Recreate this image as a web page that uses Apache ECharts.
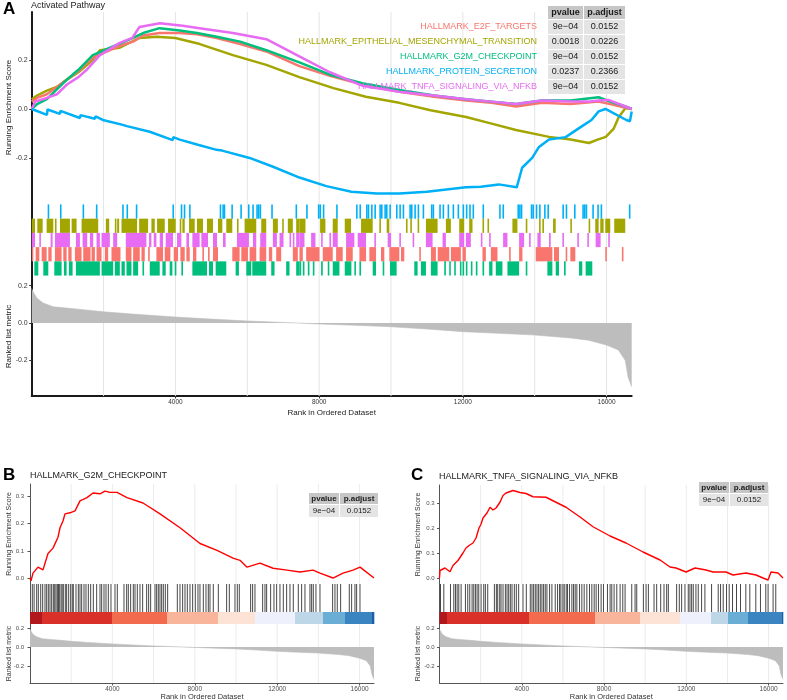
<!DOCTYPE html>
<html><head><meta charset="utf-8">
<script src="https://cdn.jsdelivr.net/npm/echarts@6/dist/echarts.min.js"></script>
<style>html,body{margin:0;padding:0;background:#fff}#c{width:787px;height:700px}</style>
</head><body><div id="c"></div>
<script>
const FONT = '"Liberation Sans", Arial, Helvetica, sans-serif';
const rankMax = 16700;
const gridRanks = [2000, 4000, 6000, 8000, 10000, 12000, 14000, 16000];
const xTickValues = [4000, 8000, 12000, 16000];

// ---------- Panel A: gene sets ----------
const setNamesA = ['HALLMARK_E2F_TARGETS', 'HALLMARK_EPITHELIAL_MESENCHYMAL_TRANSITION', 'HALLMARK_G2M_CHECKPOINT', 'HALLMARK_PROTEIN_SECRETION', 'HALLMARK_TNFA_SIGNALING_VIA_NFKB'];
const setColorsA = ['#F8766D', '#A3A500', '#00BF7D', '#00B0F6', '#E76BF3'];
const pvaluesA = ['9e\u221204', '0.0018', '9e\u221204', '0.0237', '9e\u221204'];
const padjA = ['0.0152', '0.0226', '0.0152', '0.2366', '0.0152'];
const tableHeaders = ['pvalue', 'p.adjust'];

// running enrichment scores (rank, ES)
const esRankE2F = [0,150,420,700,980,1300,1700,2180,2500,2820,3100,3560,4120,4600,5150,5800,6530,7450,8300,9200,10230,11200,12090,12800,13480,14200,15000,15780,16100,16530,16700];
const esE2F     = [0.03,0.045,0.06,0.09,0.12,0.155,0.21,0.24,0.26,0.275,0.3,0.31,0.31,0.305,0.29,0.265,0.235,0.175,0.135,0.1,0.07,0.05,0.035,0.025,0.01,0.025,0.02,0.03,0.02,0.005,0.0];
const esRankG2M = [0,150,420,700,980,1300,1700,2180,2500,2820,3100,3560,4120,4600,5150,5800,6530,7450,8300,9200,10230,11200,12090,12800,13480,14200,15000,15780,16100,16530,16700];
const esG2M     = [0.0,0.02,0.04,0.08,0.12,0.16,0.22,0.25,0.27,0.29,0.31,0.33,0.32,0.31,0.295,0.275,0.24,0.19,0.14,0.105,0.078,0.055,0.04,0.03,0.02,0.035,0.035,0.048,0.03,0.01,0.0];
const esRankTNF = [0,100,420,700,980,1300,1530,1900,2450,2800,3000,3570,4200,4670,5600,6530,7450,8300,9200,10230,11200,12090,12800,13480,14200,15000,15500,15780,16050,16530,16700];
const esTNF     = [0.0,0.03,0.045,0.06,0.1,0.13,0.16,0.22,0.27,0.29,0.335,0.35,0.34,0.33,0.31,0.285,0.215,0.15,0.095,0.07,0.055,0.04,0.03,0.02,0.035,0.03,0.03,0.035,0.037,0.01,0.0];
const esRankEMT = [0,150,420,700,980,1300,1700,1900,2450,3000,3480,4000,4680,5600,6530,7450,8400,9300,10230,11100,12090,12800,13480,14400,15000,15510,15750,15980,16200,16340,16530,16700];
const esEMT     = [0.04,0.055,0.075,0.09,0.12,0.15,0.2,0.24,0.25,0.29,0.295,0.29,0.265,0.22,0.18,0.13,0.085,0.05,0.025,-0.005,-0.033,-0.06,-0.086,-0.114,-0.125,-0.139,-0.125,-0.114,-0.08,-0.033,0.004,0.0];
const esRankPRO = [0,425,440,786,800,1342,1360,1758,1775,1980,2536,2650,2700,3286,3925,3940,4120,4600,5148,5300,6065,6700,7453,8200,8900,9600,10230,11000,11600,12090,12500,13000,13500,13650,13930,14120,14400,14860,15320,15580,15780,15970,16550,16650,16700];
const esPRO     = [0,-0.024,-0.002,-0.02,-0.008,-0.037,-0.025,-0.04,-0.03,-0.045,-0.065,-0.07,-0.063,-0.093,-0.127,-0.115,-0.125,-0.145,-0.167,-0.17,-0.2,-0.235,-0.28,-0.315,-0.338,-0.345,-0.345,-0.338,-0.328,-0.32,-0.318,-0.308,-0.32,-0.24,-0.2,-0.155,-0.125,-0.115,-0.07,-0.045,-0.01,0.0,-0.045,-0.05,-0.01];

// hit positions (rank intervals) for each row of panel A
const hitsPRO = [444,786,1416,1786,2518,2638,2897,3917,4148,4232,4380,5232,5306,5343,5556,5806,6019,6139,6250,6296,6343,6667,7343,7639,7964,8010,8102,8473,9028,9121,9306,9352,9445,9537,9676,9722,9815,9861,9954,10139,10232,10324,10510,10556,10649,10741,10880,11112,11158,11343,11436,11575,11714,11853,11992,12084,12177,12269,12547,13010,13103,13519,13566,13612,13890,13936,14029,14122,14261,14353,14770,14862,15094,15325,15371,15418,15603,15742,15834,16621];
const hitsEMT = [[0,92],[156,305],[416,601],[647,660],[786,1064],[1111,1249],[1388,1851],[2064,2157],[2314,2330],[2379,2434],[2499,2934],[2990,3240],[3332,3425],[3490,3703],[3795,4008],[4120,4135],[4194,4259],[4379,4537],[4601,4768],[4879,5046],[5185,5306],[5416,5583],[5713,5728],[5926,6250],[6389,6528],[6713,6852],[6972,6990],[7129,7268],[7361,7454],[7453,7620],[8027,8175],[8379,8518],[8713,8889],[9167,9491],[9676,9690],[9880,9954],[10417,10432],[10537,10550],[10741,10755],[10973,11297],[11528,11667],[11899,12038],[12177,12269],[12547,12560],[12686,12700],[13380,13519],[13751,13765],[14122,14136],[14214,14228],[14511,14585],[14992,15006],[15501,15515],[15686,15779],[15825,15918],[15964,16103],[16214,16520]];
const hitsTNF = [[0,92],[212,226],[527,582],[647,1064],[1231,1342],[1416,1546],[1620,1712],[1805,1897],[1944,2175],[2268,2379],[2619,3193],[3267,3332],[3397,3471],[3564,3656],[3730,3934],[4045,4166],[4305,4379],[4472,4675],[4722,4907],[5046,5157],[5324,5398],[5713,6046],[6157,6250],[6361,6528],[6713,6824],[6898,7009],[7176,7190],[7268,7282],[7361,7454],[7453,7592],[7777,7898],[8055,8070],[8287,8300],[8379,8518],[8750,8981],[9074,9306],[9537,9551],[9908,10000],[10232,10246],[10602,10616],[10973,11158],[11436,11528],[11899,12038],[12084,12222],[12501,12515],[12732,12746],[13121,13241],[13566,13705],[13844,13858],[14075,14168],[14399,14446],[14770,14784],[15186,15200],[15464,15478],[15696,15835],[16047,16061]];
const hitsE2F = [[0,45],[110,212],[277,416],[462,555],[647,832],[879,972],[1018,1111],[1203,1388],[1434,1638],[1666,1759],[1805,1944],[2036,2129],[2221,2471],[2619,2777],[2823,3008],[3055,3147],[3240,3286],[3471,3656],[3703,3860],[3953,4073],[4138,4259],[4305,4398],[4490,4583],[4750,4787],[4907,4953],[5046,5185],[5583,5787],[5833,6019],[6065,6250],[6343,6528],[6602,6694],[6805,6944],[7268,7407],[7453,7546],[7639,8010],[8102,8379],[8473,8657],[8750,8935],[9121,9306],[9398,9584],[9722,9815],[9954,10232],[10278,10371],[10787,10801],[11112,11251],[11300,11621],[11667,11945],[11992,12084],[12547,12640],[12779,12964],[13288,13302],[13566,13659],[14029,14492],[14538,14677],[14862,14876],[14992,15131],[15964,15978],[16427,16441]];
const hitsG2M = [[73,184],[323,462],[629,832],[897,972],[1036,1138],[1231,1897],[1944,2268],[2314,2453],[2499,2592],[2638,2777],[2823,2962],[3083,3120],[3286,3564],[3638,3730],[3841,3916],[3980,4027],[4166,4212],[4472,4879],[4935,5046],[5120,5416],[5676,5768],[5972,6111],[6139,6528],[6667,6759],[7083,7176],[7361,7454],[7453,7500],[7546,7592],[7685,7731],[7824,7870],[8055,8102],[8240,8254],[8379,8565],[8713,8898],[8981,8995],[9121,9167],[9491,9584],[9769,9783],[9973,10158],[10649,10741],[10834,10973],[11112,11297],[11482,11528],[11621,11635],[11760,11774],[11918,11932],[11992,12006],[12084,12098],[12223,12237],[12362,12376],[12547,12593],[12732,12825],[12917,13102],[13241,13566],[13751,13765],[14353,14492],[14585,14677],[14816,14862],[15233,15325],[15418,15603]];

// ranked list metric (shared by all panels)
const metricRanks  = [0,40,140,320,600,970,1500,2000,2800,4000,5000,6000,7000,7400,8000,9000,10000,11000,12000,13000,14000,15000,15500,16000,16330,16520,16600,16700];
const metricValues = [0.185,0.167,0.134,0.107,0.087,0.08,0.07,0.06,0.048,0.032,0.021,0.011,0.003,0,-0.005,-0.012,-0.02,-0.032,-0.046,-0.055,-0.064,-0.08,-0.092,-0.118,-0.144,-0.2,-0.29,-0.34];

// ---------- Panel B ----------
const titleB = 'HALLMARK_G2M_CHECKPOINT';
const pvalueB = '9e\u221204', padjB = '0.0152';
const esRankB = [0,49,146,388,631,874,1117,1359,1457,1602,1699,1942,2185,2428,2767,3059,3399,3641,3884,4224,4709,5486,6312,7283,8254,9079,9856,10196,10535,11166,11798,12477,13109,13740,14080,14711,15196,15682,16022,16700];
const esB     = [0,-0.01,0.018,0.04,0.03,0.09,0.11,0.15,0.185,0.21,0.236,0.24,0.247,0.284,0.296,0.313,0.31,0.32,0.315,0.315,0.296,0.276,0.236,0.185,0.127,0.102,0.073,0.065,0.04,0.055,0.036,0.029,0.022,0.029,0.018,0.0,0.018,0.029,0.04,0.0];
const hitsB = [113,200,324,405,520,615,728,809,890,971,1052,1133,1200,1262,1327,1380,1424,1505,1560,1618,1715,1780,1877,1974,2050,2103,2233,2346,2427,2508,2621,2718,2832,2945,3074,3236,3398,3479,3592,3689,3802,3932,4126,4239,4563,4692,4773,4886,5016,5097,5210,5339,5469,5663,5760,5857,6068,6148,6229,6310,6391,6472,6569,6682,7152,7281,7410,7524,7637,7766,7896,8025,8155,8252,8414,8543,8656,8737,8899,9142,9546,9676,9951,10064,10161,10711,10808,10922,11294,11407,11488,11682,11844,11973,12135,12297,12459,12620,12782,13025,13187,13349,13591,13672,13753,13882,14077,14692,14805,14918,15080,15500,15614,15776,15857,16019];
const barEdgesB = [0,583,3981,6651,9127,10924,12866,14225,15293,16604,16700];

// ---------- Panel C ----------
const titleC = 'HALLMARK_TNFA_SIGNALING_VIA_NFKB';
const pvalueC = '9e\u221204', padjC = '0.0152';
const esRankC = [0,24,267,510,656,899,1142,1288,1434,1629,1775,1920,2018,2115,2309,2455,2601,2747,2941,3087,3233,3573,3914,4206,4546,5178,5664,6151,6832,7464,8290,9068,9895,10722,11208,11499,11985,12423,12958,13298,13930,14270,14902,15389,15729,15972,16118,16459,16700];
const esC     = [0,0.03,0.04,0.025,0.05,0.07,0.1,0.12,0.13,0.14,0.16,0.2,0.215,0.24,0.26,0.283,0.272,0.28,0.303,0.33,0.34,0.35,0.342,0.338,0.325,0.323,0.303,0.283,0.244,0.205,0.168,0.14,0.104,0.072,0.044,0.04,0.024,0.04,0.032,0.024,0.024,0.012,0.02,0.012,0.0,-0.008,0.024,0.02,0.0];
const hitsC = [49,210,534,695,776,857,938,1051,1261,1374,1471,1585,1666,1746,1827,1908,2021,2151,2231,2345,2668,2765,2830,2927,2991,3088,3202,3283,3363,3444,3525,3638,3735,3848,4059,4220,4414,4495,4576,4657,4738,4819,4900,4980,5061,5142,5223,5352,5465,5627,5740,5837,5902,5999,6064,6161,6225,6322,6436,6517,6597,6678,6808,6921,7034,7163,7293,7406,7519,7616,7729,7858,7972,8166,8295,8376,8489,8619,8780,8910,9023,9346,9508,9589,9912,10042,10155,10430,10559,10753,10915,11044,11125,11529,11659,11772,11934,12095,12176,12257,12338,12467,12580,12742,12904,13227,13550,13664,13793,13955,14084,14246,14440,14634,14893,15087,15378,15604,15863,15976,16219,16349];
const barEdgesC = [0,365,4351,7560,9748,11693,13200,14026,14999,16652,16700];
const barColors = ['#b0181e','#d9302a','#f36b4e','#f9b59b','#fde3d6','#eef1fb','#bdd7e8','#6aaed6','#3b84c2','#1a5ea6'];

// ---------- build ----------
const pairs = (xs, ys) => xs.map((x, i) => [x, ys[i]]);
const gridBase = {containLabel:false, outerBoundsMode:'none'};
const grids = [
  {left:31.7, top:12,  width:600, height:191},
  {left:31.7, top:203, width:600, height:74},
  {left:31.7, top:277, width:600, height:119},
  {left:30, top:484, width:344, height:100},
  {left:30, top:584, width:344, height:28},
  {left:30, top:612, width:344, height:12},
  {left:30, top:624, width:344, height:59},
  {left:439.5, top:485, width:343.5, height:99},
  {left:439.5, top:584, width:343.5, height:28},
  {left:439.5, top:612, width:343.5, height:12},
  {left:439.5, top:624, width:343.5, height:59}
].map(g => Object.assign({}, gridBase, g));
const axA = {lineStyle:{color:'#1a1a1a', width:2}};
const axB = {lineStyle:{color:'#555', width:1}};

function xAx(g, bottom, isA) {
  const o = {type:'value', gridIndex:g, min:0, max:rankMax, axisLine:{show:false}, axisTick:{show:false}, axisLabel:{show:false}, splitLine:{show:false}};
  if (bottom) {
    o.axisLine = Object.assign({show:true, onZero:false}, isA ? axA : axB);
    o.axisTick = {show:true, length:2.5, customValues:xTickValues, lineStyle:{color:isA ? '#333' : '#555'}};
    o.axisLabel = {show:true, customValues:xTickValues, formatter:v => String(v), fontSize:6.5, color:isA ? '#333' : '#4d4d4d', fontFamily:FONT, margin:3};
    o.name = 'Rank in Ordered Dataset';
    o.nameLocation = 'middle';
    o.nameMoveOverlap = false;
    o.nameGap = isA ? 13 : 9.5;
    o.nameTextStyle = {fontSize:isA ? 8 : 7.5, color:isA ? '#1a1a1a' : '#333', fontFamily:FONT};
  }
  return o;
}
function yAx(g, min, max, ticks, isA, name, gap, margin) {
  const o = {type:'value', gridIndex:g, min:min, max:max, splitLine:{show:false},
    axisLine:Object.assign({show:true, onZero:false}, isA ? axA : axB),
    axisTick:{show:!!ticks, length:2.5, customValues:ticks || [], lineStyle:{color:isA ? '#333' : '#555'}},
    axisLabel:{show:!!ticks, customValues:ticks || [], formatter:v => v.toFixed(1), fontSize:isA ? 7 : 6, color:isA ? '#333' : '#4d4d4d', fontFamily:FONT, margin:margin || 4}};
  if (name) {
    o.name = name; o.nameLocation = 'middle'; o.nameGap = gap; o.nameMoveOverlap = false;
    o.nameTextStyle = {fontSize:isA ? 8 : 7, color:isA ? '#1a1a1a' : '#333', fontFamily:FONT};
  }
  return o;
}
const xAxes = [
  xAx(0,false,true), xAx(1,false,true), xAx(2,true,true),
  xAx(3,false,false), xAx(4,false,false), xAx(5,false,false), xAx(6,true,false),
  xAx(7,false,false), xAx(8,false,false), xAx(9,false,false), xAx(10,true,false)
];
const yAxes = [
  yAx(0, -0.384, 0.396, [-0.2, 0, 0.2], true, 'Running Enrichment Score', 18.7, 4),
  yAx(1, -0.1, 5.1, null, true),
  yAx(2, -0.390, 0.246, [-0.2, 0, 0.2], true, 'Ranked list metric', 18.7, 4),
  yAx(3, -0.022, 0.346, [0, 0.1, 0.2, 0.3], false, 'Running Enrichment Score', 17.5, 6),
  yAx(4, 0, 1, null, false),
  yAx(5, 0, 1, null, false),
  yAx(6, -0.379, 0.242, [-0.2, 0, 0.2], false, 'Ranked list metric', 17.5, 6),
  yAx(7, -0.024, 0.372, [0, 0.1, 0.2, 0.3], false, 'Running Enrichment Score', 18, 5),
  yAx(8, 0, 1, null, false),
  yAx(9, 0, 1, null, false),
  yAx(10, -0.379, 0.242, [-0.2, 0, 0.2], false, 'Ranked list metric', 18, 5)
];

const series = [];
function gridLines(g, color) {
  series.push({type:'custom', xAxisIndex:g, yAxisIndex:g, z:1, silent:true, clip:false,
    data:gridRanks.map(v => [v, 0]), encode:{x:0, y:1},
    renderItem:(params, api) => {
      const x = api.coord([api.value(0), 0])[0];
      const cs = params.coordSys;
      return {type:'line', shape:{x1:x, y1:cs.y, x2:x, y2:cs.y + cs.height}, style:{stroke:color, lineWidth:1}};
    }});
}
[0,1,2].forEach(g => gridLines(g, '#e4e4e4'));
[3,6,7,10].forEach(g => gridLines(g, '#ececec'));

function esLine(g, xs, ys, color, width) {
  series.push({type:'line', xAxisIndex:g, yAxisIndex:g, data:pairs(xs, ys), showSymbol:false, symbol:'none',
    lineStyle:{color:color, width:width}, itemStyle:{color:color}, z:3, silent:true});
}
esLine(0, esRankEMT, esEMT, setColorsA[1], 2.5);
esLine(0, esRankE2F, esE2F, setColorsA[0], 2.5);
esLine(0, esRankG2M, esG2M, setColorsA[2], 2.5);
esLine(0, esRankTNF, esTNF, setColorsA[4], 2.5);
esLine(0, esRankPRO, esPRO, setColorsA[3], 2.5);
esLine(3, esRankB, esB, '#ff0000', 1.4);
esLine(7, esRankC, esC, '#ff0000', 1.4);

// hit rows in panel A (row 4 = top)
function hitRow(row, intervals, color) {
  series.push({type:'custom', xAxisIndex:1, yAxisIndex:1, z:3, silent:true,
    data:intervals.map(iv => [iv[0], iv[1], row]), encode:{x:[0,1], y:2},
    renderItem:(params, api) => {
      const p0 = api.coord([api.value(0), api.value(2) + 1]);
      const p1 = api.coord([api.value(1), api.value(2)]);
      return {type:'rect', shape:{x:p0[0], y:p0[1], width:Math.max(p1[0] - p0[0], 1.6), height:p1[1] - p0[1]}, style:{fill:color}};
    }});
}
hitRow(4, hitsPRO.map(v => [v, v]), setColorsA[3]);
hitRow(3, hitsEMT, setColorsA[1]);
hitRow(2, hitsTNF, setColorsA[4]);
hitRow(1, hitsE2F, setColorsA[0]);
hitRow(0, hitsG2M, setColorsA[2]);

// B / C hit lines
function hitLines(g, hits) {
  series.push({type:'custom', xAxisIndex:g, yAxisIndex:g, z:3, silent:true,
    data:hits.map(v => [v, 0]), encode:{x:0, y:1},
    renderItem:(params, api) => {
      const x = api.coord([api.value(0), 0])[0];
      const cs = params.coordSys;
      return {type:'line', shape:{x1:x, y1:cs.y, x2:x, y2:cs.y + cs.height}, style:{stroke:'rgba(0,0,0,0.72)', lineWidth:1}};
    }});
}
hitLines(4, hitsB);
hitLines(8, hitsC);

function colorBar(g, edges) {
  const data = [];
  for (let i = 0; i < edges.length - 1; i++) data.push([edges[i], edges[i + 1], i]);
  series.push({type:'custom', xAxisIndex:g, yAxisIndex:g, z:3, silent:true, data:data, encode:{x:[0,1], y:2},
    renderItem:(params, api) => {
      const p0 = api.coord([api.value(0), 1]);
      const p1 = api.coord([api.value(1), 0]);
      return {type:'rect', shape:{x:p0[0], y:p0[1], width:p1[0] - p0[0] + 0.3, height:p1[1] - p0[1]}, style:{fill:barColors[api.value(2)]}};
    }});
}
colorBar(5, barEdgesB);
colorBar(9, barEdgesC);

function metricArea(g) {
  series.push({type:'line', xAxisIndex:g, yAxisIndex:g, data:pairs(metricRanks, metricValues), showSymbol:false, symbol:'none',
    lineStyle:{width:0.6, color:'#bdbdbd'}, areaStyle:{color:'#bdbdbd', opacity:1}, z:2, silent:true});
}
[2, 6, 10].forEach(metricArea);

// ---------- graphic: labels, titles, tables ----------
const G = [];
function txt(x, y, text, size, color, align, weight) {
  G.push({type:'text', x:x, y:y, z:100, silent:true,
    style:{text:text, fill:color, font:(weight || 'normal') + ' ' + size + 'px ' + FONT,
      align:align || 'left', verticalAlign:'middle', textAlign:align || 'left', textVerticalAlign:'middle'}});
}
function rect(x, y, w, h, fill) {
  G.push({type:'rect', z:99, silent:true, shape:{x:x, y:y, width:w, height:h}, style:{fill:fill}});
}
txt(3, 9, 'A', 17, '#000', 'left', 'bold');
txt(31, 6, 'Activated Pathway', 9, '#1a1a1a', 'left');
txt(3, 475, 'B', 17, '#000', 'left', 'bold');
txt(30, 476, titleB, 9, '#1a1a1a', 'left');
txt(411, 475, 'C', 17, '#000', 'left', 'bold');
txt(439, 477, titleC, 9, '#1a1a1a', 'left');

// table A
rect(548, 6, 35, 13, '#c6c6c6'); rect(584, 6, 41, 13, '#c6c6c6');
txt(565.5, 12.5, tableHeaders[0], 9, '#1a1a1a', 'center', 'bold');
txt(604.5, 12.5, tableHeaders[1], 9, '#1a1a1a', 'center', 'bold');
setNamesA.forEach((nm, i) => {
  const y = 20 + 15 * i;
  rect(548, y, 35, 14, '#e4e4e4'); rect(584, y, 41, 14, '#e4e4e4');
  txt(565.5, y + 7, pvaluesA[i], 9, '#1a1a1a', 'center');
  txt(604.5, y + 7, padjA[i], 9, '#1a1a1a', 'center');
  txt(537, y + 7, nm, 9, setColorsA[i], 'right');
});
// tables B, C
function smallTable(x1, w1, x2, w2, y, pv, pa) {
  rect(x1, y, w1, 11, '#c6c6c6'); rect(x2, y, w2, 11, '#c6c6c6');
  rect(x1, y + 12, w1, 12, '#e4e4e4'); rect(x2, y + 12, w2, 12, '#e4e4e4');
  txt(x1 + w1 / 2, y + 5.5, tableHeaders[0], 8, '#1a1a1a', 'center', 'bold');
  txt(x2 + w2 / 2, y + 5.5, tableHeaders[1], 8, '#1a1a1a', 'center', 'bold');
  txt(x1 + w1 / 2, y + 18, pv, 8, '#1a1a1a', 'center');
  txt(x2 + w2 / 2, y + 18, pa, 8, '#1a1a1a', 'center');
}
smallTable(309, 30, 340, 38, 493, pvalueB, padjB);
smallTable(699, 30, 730, 38, 482, pvalueC, padjC);

const chart = echarts.init(document.getElementById('c'), null, {renderer:'canvas', width:787, height:700});
chart.setOption({
  animation:false,
  backgroundColor:'#ffffff',
  textStyle:{fontFamily:FONT},
  grid:grids,
  xAxis:xAxes,
  yAxis:yAxes,
  series:series,
  graphic:G
});
</script>
</body></html>
